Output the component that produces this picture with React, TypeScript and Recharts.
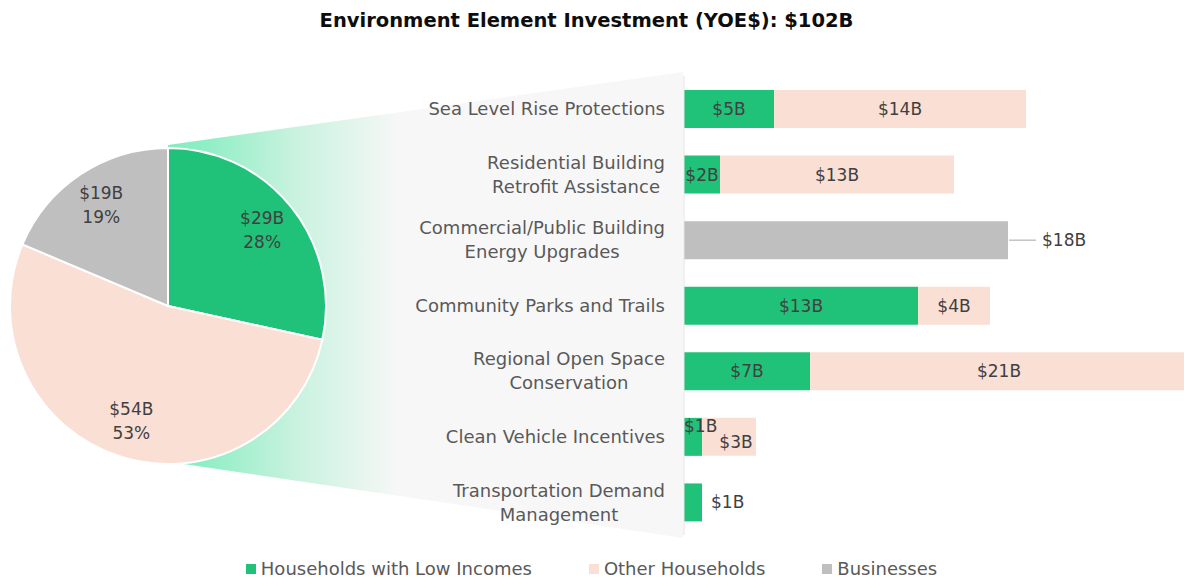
import React from 'react';
import { PieChart, Pie, Cell, BarChart, Bar, XAxis, YAxis, LabelList, Legend } from 'recharts';

const FONT = '"DejaVu Sans", Verdana, sans-serif';

// ---------- data ----------
const TITLE = 'Environment Element Investment (YOE$): $102B';
const seriesNames = ['Households with Low Incomes', 'Other Households', 'Businesses'];
const seriesColors = ['#20C27A', '#FADFD4', '#BFBFBF'];
const pieValues = [29, 54, 19];

const categories = [
  'Sea Level Rise Protections',
  'Residential Building\nRetrofit Assistance',
  'Commercial/Public Building\nEnergy Upgrades',
  'Community Parks and Trails',
  'Regional Open Space\nConservation',
  'Clean Vehicle Incentives',
  'Transportation Demand\nManagement',
];
const lowIncomeValues = [5, 2, 0, 13, 7, 1, 1];
const otherHouseholdValues = [14, 13, 0, 4, 21, 3, 0];
const businessValues = [0, 0, 18, 0, 0, 0, 0];
const xDomain: [number, number] = [0, 28];

const barData = categories.map((name, i) => ({
  name,
  low: lowIncomeValues[i],
  other: otherHouseholdValues[i],
  business: businessValues[i],
}));
const pieData = seriesNames.map((name, i) => ({ name, value: pieValues[i] }));

// ---------- layout ----------
const W = 1184;
const H = 582;
const PIE_CX = 168;
const PIE_CY = 306;
const PIE_R = 158;
const PLOT_LEFT = 684;
const BAR_CHART_W = 1188;
const PANEL_TOP = 72;
const PANEL_BOTTOM = 538;

const LABEL_COLOR = '#404040';
const AXIS_COLOR = '#595959';

let measureCtx: CanvasRenderingContext2D | null = null;
function textWidth(t: string, font: string): number {
  if (!measureCtx) measureCtx = document.createElement('canvas').getContext('2d');
  if (!measureCtx) return t.length * 10;
  measureCtx.font = font;
  return measureCtx.measureText(t).width;
}

const fmt = (v: number) => `$${v}B`;

function boxOf(p: any) {
  const vb = p.viewBox && p.viewBox.width !== undefined ? p.viewBox : p;
  return { x: Number(vb.x), y: Number(vb.y), w: Number(vb.width), h: Number(vb.height) };
}

const labelStyle = { fontFamily: FONT, fontSize: 17, fill: LABEL_COLOR } as const;

// the LabelLists carry the category name; values are looked up from the arrays
const LowLabel = (p: any) => {
  const idx = categories.indexOf(String(p.value));
  if (idx < 0) return null;
  const v = lowIncomeValues[idx];
  if (!v) return null;
  const { x, y, w, h } = boxOf(p);
  const cy = y + h / 2;
  if (w >= 30) {
    return <text x={x + w / 2} y={cy} dy="0.35em" textAnchor="middle" {...labelStyle}>{fmt(v)}</text>;
  }
  if (otherHouseholdValues[idx] > 0) {
    return <text x={x} y={cy - 11} dy="0.35em" textAnchor="start" {...labelStyle}>{fmt(v)}</text>;
  }
  return <text x={x + w + 9} y={cy} dy="0.35em" textAnchor="start" {...labelStyle}>{fmt(v)}</text>;
};

const OtherLabel = (p: any) => {
  const idx = categories.indexOf(String(p.value));
  if (idx < 0) return null;
  const v = otherHouseholdValues[idx];
  if (!v) return null;
  const { x, y, w, h } = boxOf(p);
  const cy = y + h / 2;
  const crowded = lowIncomeValues[idx] > 0 && lowIncomeValues[idx] < 2;
  return (
    <text x={x + w / 2 + (crowded ? 7 : 0)} y={cy + (crowded ? 5 : 0)} dy="0.35em" textAnchor="middle" {...labelStyle}>
      {fmt(v)}
    </text>
  );
};

const BusinessLabel = (p: any) => {
  const idx = categories.indexOf(String(p.value));
  if (idx < 0) return null;
  const v = businessValues[idx];
  if (!v) return null;
  const { x, y, w, h } = boxOf(p);
  const cy = y + h / 2;
  return (
    <g>
      <line x1={x + w + 1} x2={x + w + 28} y1={cy} y2={cy} stroke="#A6A6A6" strokeWidth={1} />
      <text x={x + w + 34} y={cy} dy="0.35em" textAnchor="start" {...labelStyle}>{fmt(v)}</text>
    </g>
  );
};

const CategoryTick = (p: any) => {
  const label: string = String(p.payload?.value ?? '');
  const lines = label.split('\n');
  const font = `18px ${FONT}`;
  const maxW = Math.max(...lines.map((l) => textWidth(l, font)));
  const right = Number(p.x) - 19;
  const cx = right - maxW / 2;
  const lh = 24;
  const y0 = Number(p.y) - ((lines.length - 1) * lh) / 2;
  return (
    <text textAnchor="middle" fontFamily={FONT} fontSize={18} fill={AXIS_COLOR}>
      {lines.map((l, i) => (
        <tspan key={i} x={cx} y={y0 + i * lh} dy="0.35em">{l}</tspan>
      ))}
    </text>
  );
};

const RAD = Math.PI / 180;
const PieLabel = (p: any) => {
  const r = p.outerRadius * 0.765;
  const x = p.cx + r * Math.cos(-p.midAngle * RAD);
  const y = p.cy + r * Math.sin(-p.midAngle * RAD);
  return (
    <text textAnchor="middle" fontFamily={FONT} fontSize={17} fill={LABEL_COLOR}>
      <tspan x={x} y={y - 6}>{fmt(p.value)}</tspan>
      <tspan x={x} y={y + 18}>{`${Math.round(p.percent * 100)}%`}</tspan>
    </text>
  );
};

const renderLegend = () => (
  <div
    style={{
      height: 46,
      paddingTop: 22,
      paddingRight: 5,
      boxSizing: 'border-box',
      display: 'flex',
      justifyContent: 'center',
      fontFamily: FONT,
      fontSize: 18,
      lineHeight: '24px',
      color: AXIS_COLOR,
    }}
  >
    {seriesNames.map((n, i) => (
      <div key={n} style={{ display: 'flex', alignItems: 'center', marginLeft: i ? 57 : 0, whiteSpace: 'nowrap' }}>
        <span style={{ display: 'inline-block', width: 10, height: 10, background: seriesColors[i], marginRight: 5 }} />
        <span>{n}</span>
      </div>
    ))}
  </div>
);

export default function App() {
  const wedge = `${PIE_CX},${PIE_CY - PIE_R - 3} ${PLOT_LEFT - 1},${PANEL_TOP} ${PLOT_LEFT - 1},${PANEL_BOTTOM} ${PIE_CX + 9},${PIE_CY + PIE_R - 1}`;
  return (
    <div style={{ position: 'fixed', left: 0, top: 0, width: W, height: H, overflow: 'hidden', background: '#fff' }}>
      <svg width={W} height={H} style={{ position: 'absolute', left: 0, top: 0 }}>
        <defs>
          <linearGradient id="wedgeGrad" gradientUnits="userSpaceOnUse" x1={PIE_CX} y1={0} x2={400} y2={0}>
            <stop offset="0" stopColor="#84ECBE" />
            <stop offset="0.15" stopColor="#8EEEC4" />
            <stop offset="0.55" stopColor="#C9F2DF" />
            <stop offset="1" stopColor="#F7F7F7" />
          </linearGradient>
        </defs>
        <polygon points={wedge} fill="url(#wedgeGrad)" />
        <text x={586.5} y={27} textAnchor="middle" fontFamily={FONT} fontWeight="bold" fontSize={19.5} fill="#0D0D0D">
          {TITLE}
        </text>
      </svg>

      <div style={{ position: 'absolute', left: 0, top: 0 }}>
        <BarChart
          width={BAR_CHART_W}
          height={H}
          data={barData}
          layout="vertical"
          margin={{ top: 76, right: 0, bottom: 1, left: 0 }}
        >
          <XAxis type="number" domain={xDomain} hide />
          <YAxis
            type="category"
            dataKey="name"
            width={PLOT_LEFT}
            tick={<CategoryTick />}
            tickLine={false}
            tickSize={0}
            tickMargin={0}
            axisLine={{ stroke: '#E2E2E2' }}
            interval={0}
          />
          <Legend verticalAlign="bottom" align="center" content={renderLegend} />
          <Bar dataKey="low" name={seriesNames[0]} stackId="s" fill={seriesColors[0]} barSize={38} isAnimationActive={false}>
            <LabelList dataKey="name" content={LowLabel} />
          </Bar>
          <Bar dataKey="other" name={seriesNames[1]} stackId="s" fill={seriesColors[1]} barSize={38} isAnimationActive={false}>
            <LabelList dataKey="name" content={OtherLabel} />
          </Bar>
          <Bar dataKey="business" name={seriesNames[2]} stackId="s" fill={seriesColors[2]} barSize={38} isAnimationActive={false}>
            <LabelList dataKey="name" content={BusinessLabel} />
          </Bar>
        </BarChart>
      </div>

      <div style={{ position: 'absolute', left: 0, top: 0 }}>
        <PieChart width={W} height={H} margin={{ top: 0, right: 0, bottom: 0, left: 0 }}>
          <Pie
            data={pieData}
            dataKey="value"
            nameKey="name"
            cx={PIE_CX}
            cy={PIE_CY}
            outerRadius={PIE_R}
            startAngle={90}
            endAngle={-270}
            stroke="#FFFFFF"
            strokeWidth={2}
            label={PieLabel}
            labelLine={false}
            isAnimationActive={false}
          >
            {pieData.map((d, i) => (
              <Cell key={d.name} fill={seriesColors[i]} />
            ))}
          </Pie>
        </PieChart>
      </div>
    </div>
  );
}
